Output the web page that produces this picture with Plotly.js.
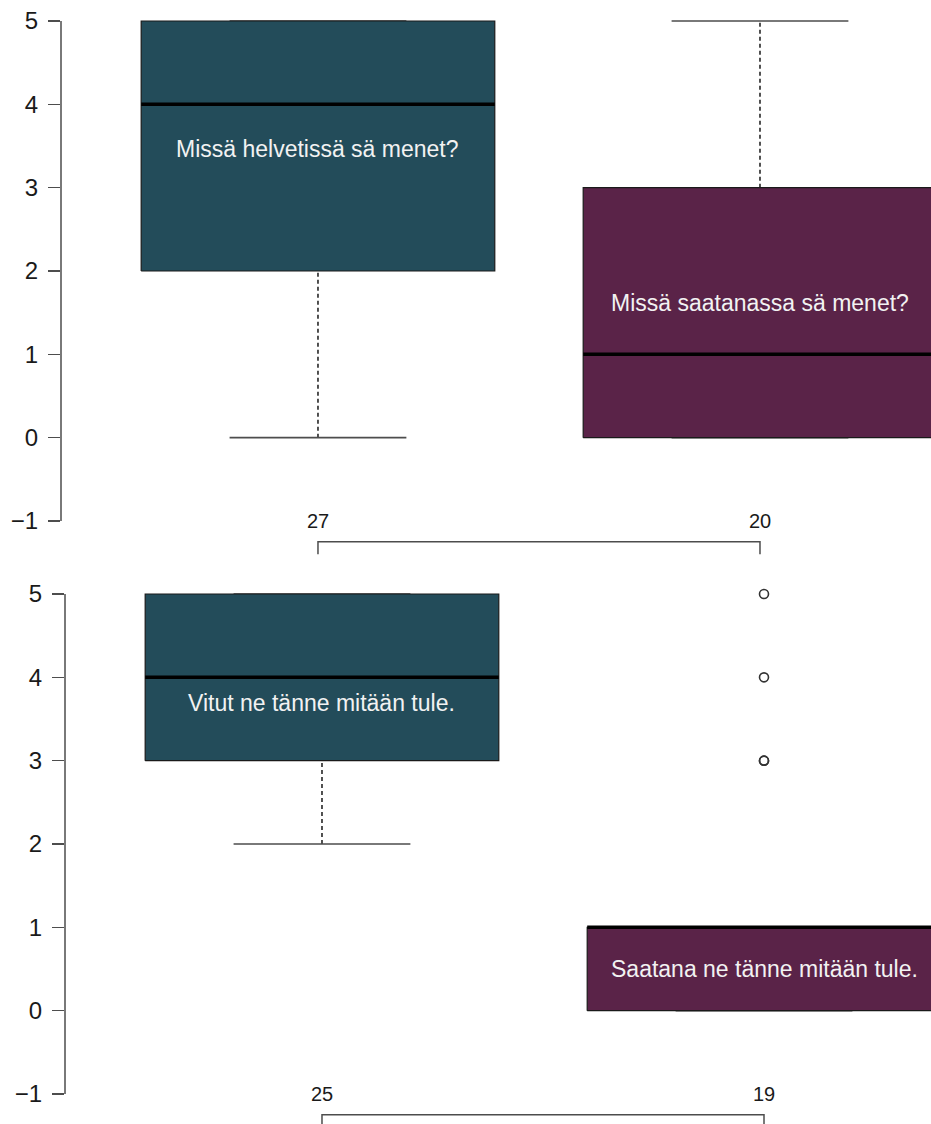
<!DOCTYPE html>
<html>
<head>
<meta charset="utf-8">
<script src="https://cdn.plot.ly/plotly-3.0.1.min.js"></script>
<style>
  html, body { margin: 0; padding: 0; background: #ffffff; }
  #chart { width: 931px; height: 1124px; }
</style>
</head>
<body>
<div id="chart"></div>
<script>
// Group positions along the x axis
const positions = [1, 2];

// Upper panel: "Missä ... sä menet?"
const topLabels = ['Missä helvetissä sä menet?', 'Missä saatanassa sä menet?'];
const topLower = [0, 0];
const topQ1 = [2, 0];
const topMedian = [4, 1];
const topQ3 = [5, 3];
const topUpper = [5, 5];
const topOutliers = [[], []];
const topCounts = [27, 20];
const topLabelY = [3.46, 1.62];

// Lower panel: "... ne tänne mitään tule."
const botLabels = ['Vitut ne tänne mitään tule.', 'Saatana ne tänne mitään tule.'];
const botLower = [2, 0];
const botQ1 = [3, 0];
const botMedian = [4, 1];
const botQ3 = [5, 1];
const botUpper = [5, 1];
const botOutliers = [[], [3, 3, 4, 5]];
const botCounts = [25, 19];
const botLabelY = [3.69, 0.5];

const yTicks = [-1, 0, 1, 2, 3, 4, 5];
const fillColors = ['#234c5a', '#5a2348'];

const BOX_W = 0.8;
const CAP_W = 0.4;
const LINE_GREY = '#4d4d4d';
const FONT = '"Liberation Sans", Arial, Helvetica, sans-serif';

const traces = [];
const shapes = [];
const annotations = [];

function addPanel(xa, ya, lower, q1, med, q3, upper, outl, counts, labels, labelY) {
  const xref = xa, yref = ya;
  positions.forEach((p, i) => {
    const l = p - BOX_W / 2, r = p + BOX_W / 2;
    // dashed whiskers
    traces.push({
      type: 'scatter', mode: 'lines', xaxis: xa, yaxis: ya, hoverinfo: 'skip', showlegend: false,
      x: [p, p, null, p, p], y: [q3[i], upper[i], null, lower[i], q1[i]],
      line: { color: '#333333', width: 1.7, dash: '4px,3px' }
    });
    // whisker caps
    traces.push({
      type: 'scatter', mode: 'lines', xaxis: xa, yaxis: ya, hoverinfo: 'skip', showlegend: false,
      x: [p - CAP_W / 2, p + CAP_W / 2, null, p - CAP_W / 2, p + CAP_W / 2],
      y: [upper[i], upper[i], null, lower[i], lower[i]],
      line: { color: LINE_GREY, width: 1.6 }
    });
    // box body
    traces.push({
      type: 'scatter', mode: 'lines', xaxis: xa, yaxis: ya, hoverinfo: 'skip', showlegend: false,
      x: [l, r, r, l, l], y: [q1[i], q1[i], q3[i], q3[i], q1[i]],
      fill: 'toself', fillcolor: fillColors[i],
      line: { color: '#1a1a1a', width: 1.2 }
    });
    // median
    traces.push({
      type: 'scatter', mode: 'lines', xaxis: xa, yaxis: ya, hoverinfo: 'skip', showlegend: false,
      x: [l, r], y: [med[i], med[i]],
      line: { color: '#000000', width: 3.5 }
    });
    // outliers
    if (outl[i].length) {
      traces.push({
        type: 'scatter', mode: 'markers', xaxis: xa, yaxis: ya, hoverinfo: 'skip', showlegend: false,
        x: outl[i].map(() => p), y: outl[i],
        marker: { symbol: 'circle-open', size: 9, color: '#333333', line: { width: 1.6 } }
      });
    }
    // label inside the box
    annotations.push({
      xref: xref, yref: yref, x: p, y: labelY[i], text: labels[i], showarrow: false,
      font: { family: FONT, size: 23, color: '#f2f2f2' }, xanchor: 'center', yanchor: 'middle'
    });
    // group size
    annotations.push({
      xref: xref, yref: yref, x: p, y: -1, text: String(counts[i]), showarrow: false,
      font: { family: FONT, size: 20, color: '#1a1a1a' }, xanchor: 'center', yanchor: 'middle'
    });
  });
  // comparison bracket between the two groups
  const top = -1.25, drop = -1.40;
  shapes.push({
    type: 'path', xref: xref, yref: yref,
    path: `M ${positions[0]},${drop} L ${positions[0]},${top} L ${positions[1]},${top} L ${positions[1]},${drop}`,
    line: { color: LINE_GREY, width: 1.5 }
  });
  // y axis line spanning the tick range
  shapes.push({
    type: 'line', xref: xref + ' domain', yref: yref,
    x0: 0, x1: 0, y0: yTicks[0], y1: yTicks[yTicks.length - 1],
    line: { color: LINE_GREY, width: 1.5 }
  });
}

addPanel('x', 'y', topLower, topQ1, topMedian, topQ3, topUpper, topOutliers, topCounts, topLabels, topLabelY);
addPanel('x2', 'y2', botLower, botQ1, botMedian, botQ3, botUpper, botOutliers, botCounts, botLabels, botLabelY);

const yAxisCommon = {
  tickvals: yTicks,
  ticktext: yTicks.map(v => (v < 0 ? '\u2212' + Math.abs(v) : String(v))),
  ticks: 'outside', ticklen: 12, tickwidth: 1.5, tickcolor: LINE_GREY,
  ticklabelstandoff: 5,
  tickfont: { family: FONT, size: 24, color: '#1a1a1a' },
  showgrid: false, zeroline: false, showline: false, fixedrange: true
};

const layout = {
  width: 931, height: 1124,
  margin: { l: 61, r: 0, t: 0, b: 0 },
  paper_bgcolor: '#ffffff', plot_bgcolor: '#ffffff',
  showlegend: false,
  xaxis: { domain: [0, 1], range: [0.4186, 2.3869], visible: false, fixedrange: true },
  xaxis2: { domain: [0.0046, 1], range: [0.4186, 2.3778], visible: false, fixedrange: true, anchor: 'y2' },
  yaxis: Object.assign({}, yAxisCommon, { domain: [0.501779, 1], range: [-1.468, 5.252], anchor: 'x' }),
  yaxis2: Object.assign({}, yAxisCommon, { domain: [0, 0.497331], range: [-1.36, 5.348], anchor: 'x2' }),
  shapes: shapes,
  annotations: annotations
};

Plotly.newPlot('chart', traces, layout, { displayModeBar: false, staticPlot: true });
</script>
</body>
</html>
